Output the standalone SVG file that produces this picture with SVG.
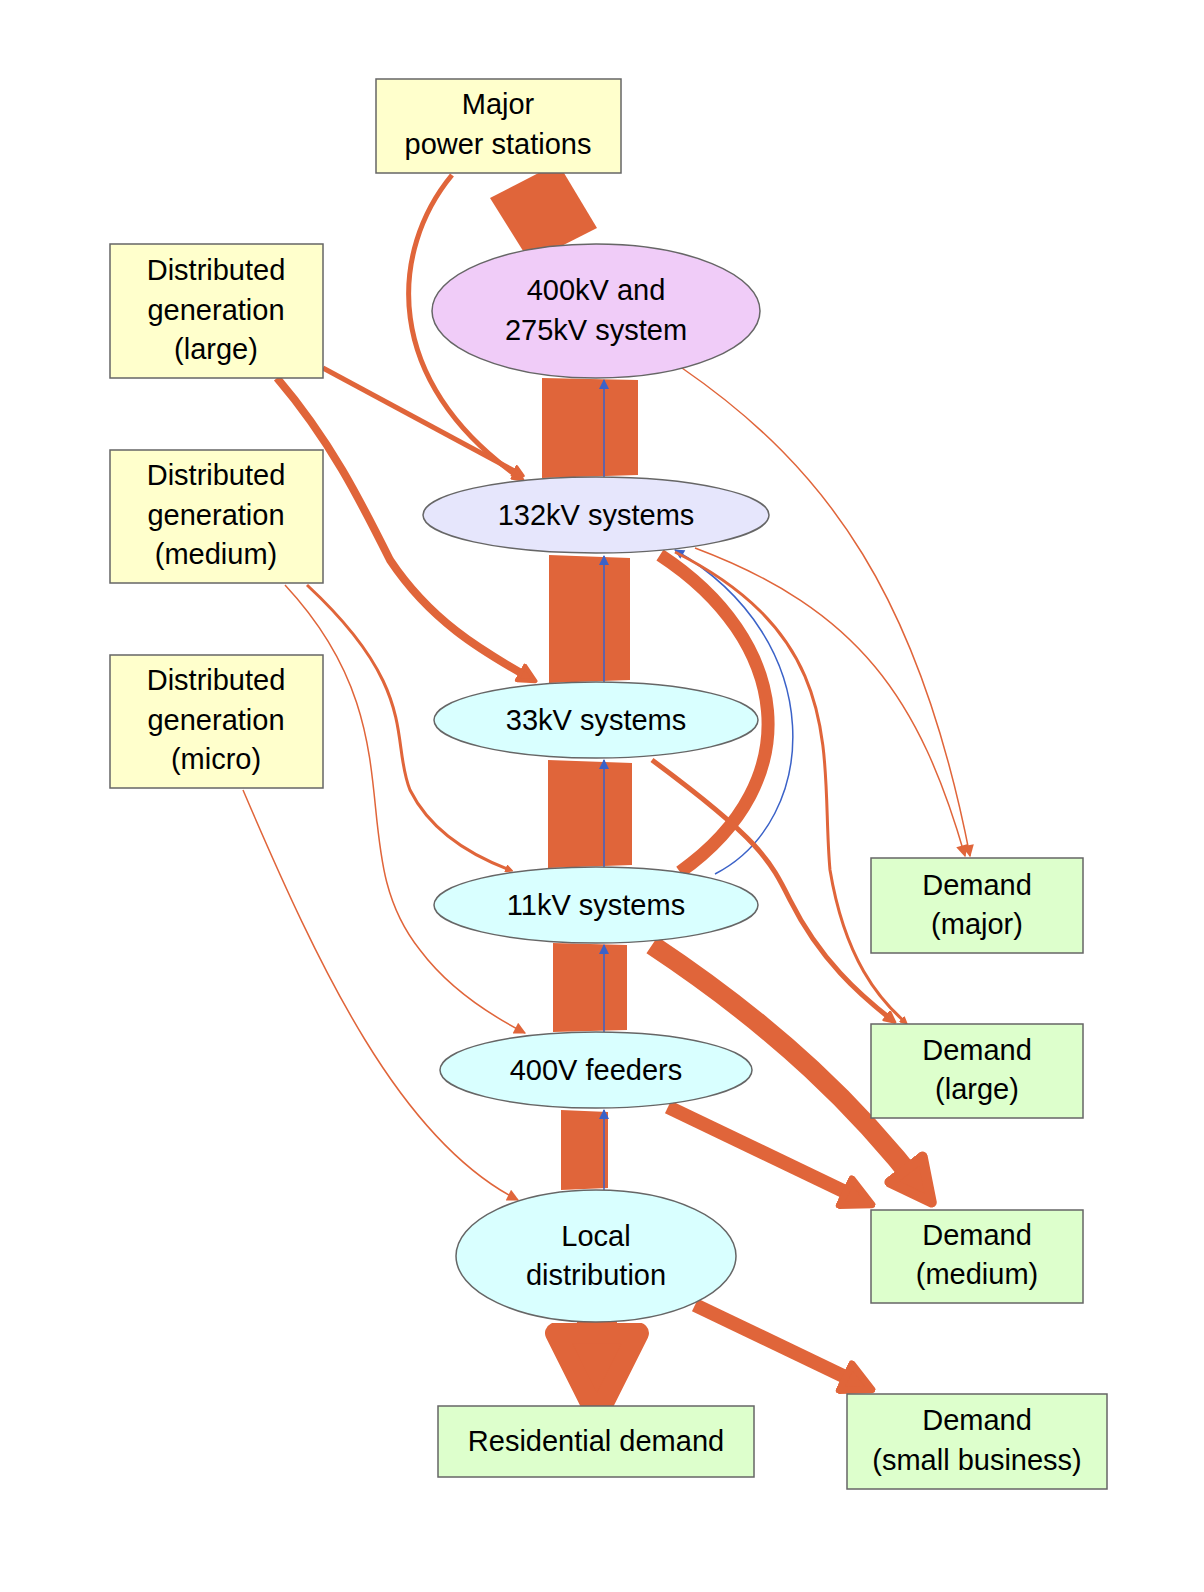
<svg xmlns="http://www.w3.org/2000/svg" width="1204" height="1592" viewBox="0 0 1204 1592">
<style>
.n{stroke:#666;stroke-width:1.5}
.y{fill:#ffffcc}.g{fill:#ddffcc}.c{fill:#d9ffff}
text{font-family:"Liberation Sans",Arial,sans-serif;font-size:29px;fill:#000;text-anchor:middle}
.e{fill:none;stroke:#e0653a}
.b{fill:none;stroke:#3b62c8;stroke-width:1.5}
.bar{fill:#e0653a}
</style>
<defs>
<marker id="a" viewBox="0 0 10 10" refX="6" refY="5" markerWidth="2.6" markerHeight="2.6" orient="auto"><path d="M1,1 L9,5 L1,9 z" fill="#e0653a" stroke="#e0653a" stroke-width="2" stroke-linejoin="round"/></marker>
<marker id="t" viewBox="0 0 10 10" refX="9" refY="5" markerWidth="14" markerHeight="12" markerUnits="userSpaceOnUse" orient="auto"><path d="M0,0 L10,5 L0,10 z" fill="#e0653a"/></marker>
<marker id="bl" viewBox="0 0 10 10" refX="9" refY="5" markerWidth="14" markerHeight="10" markerUnits="userSpaceOnUse" orient="auto"><path d="M0,0 L10,5 L0,10 z" fill="#3b62c8"/></marker>
</defs>
<g id="connectors">
<polygon class="bar" points="490,198 558,163 597,228 530,262"/>
<polygon class="bar" points="542,378 638,380 638,475 542,478"/>
<polygon class="bar" points="549,555 630,558 630,680 549,683"/>
<polygon class="bar" points="548,760 632,763 632,865 548,868"/>
<polygon class="bar" points="553,943 627,945 627,1030 553,1032"/>
<polygon class="bar" points="561,1110 608,1112 608,1188 561,1190"/>
<path class="e" d="M597,1320 L597,1385" stroke-width="40" marker-end="url(#a)"/>
<path class="e" d="M452,175 C390,250 380,380 520,478" stroke-width="5" marker-end="url(#a)"/>
<path class="e" d="M323,368 L520,474" stroke-width="5" marker-end="url(#a)"/>
<path class="e" d="M277,378 C330,440 360,500 390,560 C430,620 480,650 530,678" stroke-width="8" marker-end="url(#a)"/>
<path class="e" d="M307,585 C420,690 390,740 410,790 C430,830 470,855 510,870" stroke-width="3" marker-end="url(#a)"/>
<path class="e" d="M285,585 C420,730 340,850 420,950 C450,990 490,1015 525,1033" stroke-width="1.5" marker-end="url(#t)"/>
<path class="e" d="M243,790 C320,970 400,1140 518,1200" stroke-width="1.5" marker-end="url(#t)"/>
<path class="e" d="M682,368 C830,470 920,600 970,856" stroke-width="1.5" marker-end="url(#t)"/>
<path class="e" d="M695,548 C860,610 920,700 965,856" stroke-width="1.5" marker-end="url(#t)"/>
<path class="e" d="M660,555 C790,640 810,780 680,872" stroke-width="13"/>
<path class="b" d="M715,874 C820,820 830,640 675,550" marker-end="url(#bl)"/>
<path class="e" d="M675,552 C850,640 820,760 830,870 C845,960 880,1000 905,1022" stroke-width="3" marker-end="url(#a)"/>
<path class="e" d="M652,760 C760,840 770,860 790,900 C820,960 860,995 892,1020" stroke-width="5" marker-end="url(#a)"/>
<path class="e" d="M652,945 C780,1030 860,1110 922,1190" stroke-width="20" marker-end="url(#a)"/>
<path class="e" d="M668,1107 L862,1200" stroke-width="14" marker-end="url(#a)"/>
<path class="e" d="M695,1305 L862,1385" stroke-width="14" marker-end="url(#a)"/>
<path class="b" d="M604,477 L604,380" marker-end="url(#bl)"/>
<path class="b" d="M604,683 L604,556" marker-end="url(#bl)"/>
<path class="b" d="M604,868 L604,760" marker-end="url(#bl)"/>
<path class="b" d="M604,1032 L604,945" marker-end="url(#bl)"/>
<path class="b" d="M604,1190 L604,1110" marker-end="url(#bl)"/>
</g>
<g id="major"><rect class="n y" x="376" y="79" width="245" height="94"/><text x="498" y="114">Major</text><text x="498" y="154">power stations</text></g>
<g id="dgl"><rect class="n y" x="110" y="244" width="213" height="134"/><text x="216" y="280">Distributed</text><text x="216" y="320">generation</text><text x="216" y="359">(large)</text></g>
<g id="dgm"><rect class="n y" x="110" y="450" width="213" height="133"/><text x="216" y="485">Distributed</text><text x="216" y="525">generation</text><text x="216" y="564">(medium)</text></g>
<g id="dgs"><rect class="n y" x="110" y="655" width="213" height="133"/><text x="216" y="690">Distributed</text><text x="216" y="730">generation</text><text x="216" y="769">(micro)</text></g>
<g id="kv400"><ellipse class="n" fill="#f0ccf8" cx="596" cy="311" rx="164" ry="67"/><text x="596" y="300">400kV and</text><text x="596" y="340">275kV system</text></g>
<g id="kv132"><ellipse class="n" fill="#e6e6fc" cx="596" cy="515" rx="173" ry="38"/><text x="596" y="525">132kV systems</text></g>
<g id="kv33"><ellipse class="n c" cx="596" cy="720" rx="162" ry="38"/><text x="596" y="730">33kV systems</text></g>
<g id="kv11"><ellipse class="n c" cx="596" cy="905" rx="162" ry="38"/><text x="596" y="915">11kV systems</text></g>
<g id="v400"><ellipse class="n c" cx="596" cy="1070" rx="156" ry="38"/><text x="596" y="1080">400V feeders</text></g>
<g id="local"><ellipse class="n c" cx="596" cy="1256" rx="140" ry="66"/><text x="596" y="1246">Local</text><text x="596" y="1285">distribution</text></g>
<g id="dmaj"><rect class="n g" x="871" y="858" width="212" height="95"/><text x="977" y="895">Demand</text><text x="977" y="934">(major)</text></g>
<g id="dlarge"><rect class="n g" x="871" y="1024" width="212" height="94"/><text x="977" y="1060">Demand</text><text x="977" y="1099">(large)</text></g>
<g id="dmed"><rect class="n g" x="871" y="1210" width="212" height="93"/><text x="977" y="1245">Demand</text><text x="977" y="1284">(medium)</text></g>
<g id="res"><rect class="n g" x="438" y="1406" width="316" height="71"/><text x="596" y="1451">Residential demand</text></g>
<g id="dsb"><rect class="n g" x="847" y="1394" width="260" height="95"/><text x="977" y="1430">Demand</text><text x="977" y="1470">(small business)</text></g>
</svg>
